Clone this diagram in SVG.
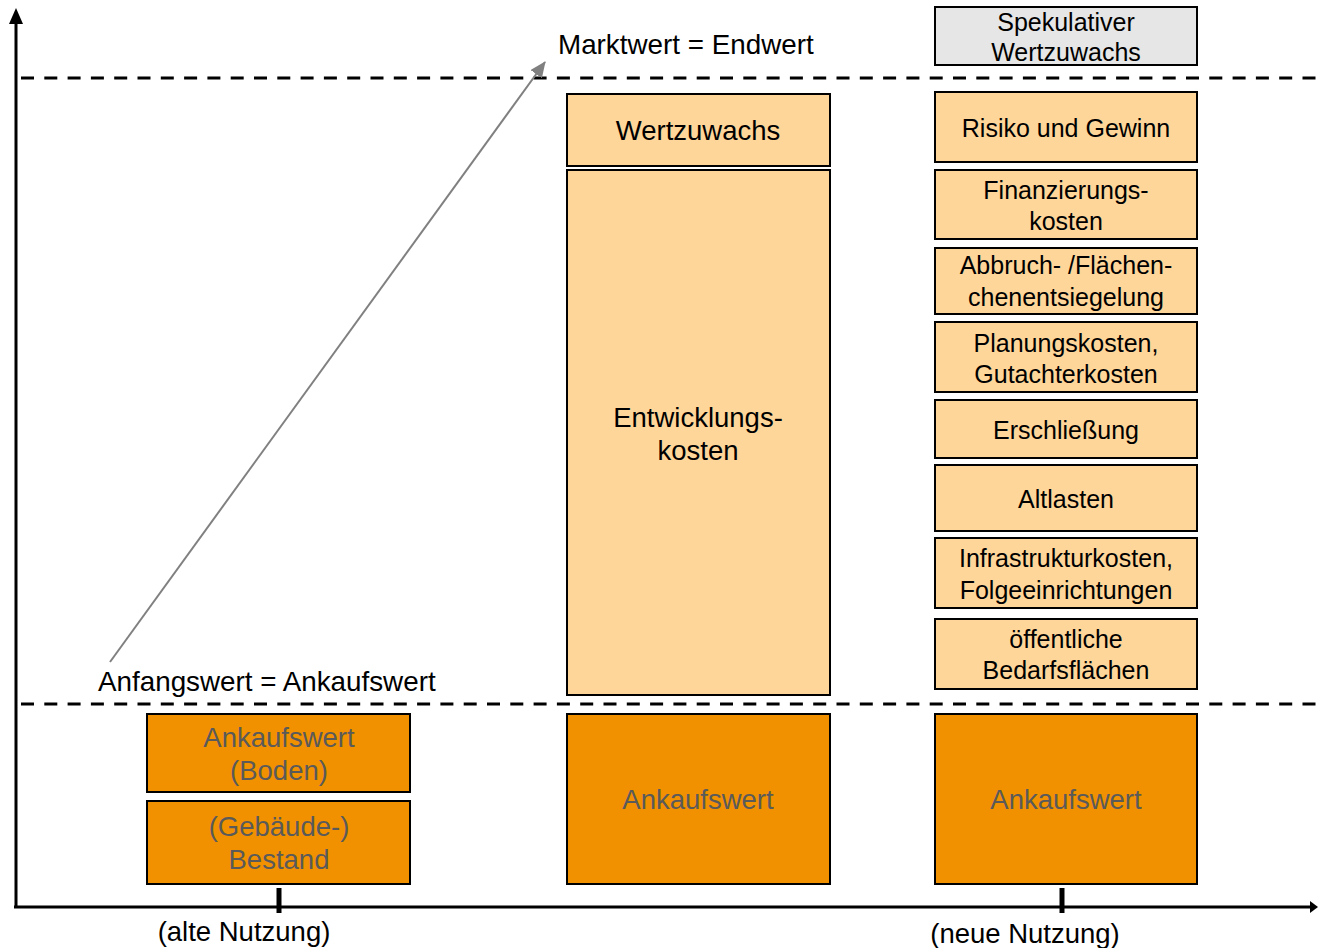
<svg xmlns="http://www.w3.org/2000/svg" width="1318" height="948" viewBox="0 0 1318 948">
<defs>
<style>
text{font-family:"Liberation Sans",Arial,sans-serif;text-anchor:middle;fill:#000}
.big{font-size:27.5px}
.sm{font-size:25px}
.lbl{font-size:27.8px;text-anchor:start}
.dk{fill:#5a5a5a}
.lo{fill:#FFD699;stroke:#000;stroke-width:2}
.or{fill:#F29100;stroke:#000;stroke-width:2}
.gr{fill:#E6E6E6;stroke:#000;stroke-width:2}
.dash{stroke:#000;stroke-width:3;stroke-dasharray:13 10.3;fill:none}
.axis{stroke:#000;stroke-width:3;fill:none}
.tick{stroke:#000;stroke-width:5}
</style>
<marker id="gh" markerWidth="16" markerHeight="14" refX="15" refY="7" orient="auto" markerUnits="userSpaceOnUse">
<path d="M0,0 L16,7 L0,14 z" fill="#808080"/>
</marker>
</defs>
<rect width="1318" height="948" fill="#fff"/>

<g id="connectors">
<line class="axis" x1="16" y1="908" x2="16" y2="22"/>
<path d="M9,24 L16,8 L23,24 z" fill="#000"/>
<line class="axis" x1="14" y1="907" x2="1312" y2="907"/>
<path d="M1310,901 L1318,907 L1310,913 z" fill="#000"/>
<line class="tick" x1="279" y1="888" x2="279" y2="913"/>
<line class="tick" x1="1062" y1="888" x2="1062" y2="913"/>
<line class="dash" x1="21" y1="78" x2="1318" y2="78"/>
<line class="dash" x1="21" y1="704" x2="1318" y2="704"/>
<line x1="110" y1="662" x2="545" y2="62" stroke="#808080" stroke-width="2" marker-end="url(#gh)"/>
</g>

<g id="labels">
<text class="lbl" x="558" y="54">Marktwert = Endwert</text>
<text class="lbl" x="98" y="691">Anfangswert = Ankaufswert</text>
<text class="big" x="244" y="941">(alte Nutzung)</text>
<text class="big" x="1025" y="943">(neue Nutzung)</text>
</g>

<g id="left-boden">
<rect class="or" x="147" y="714" width="263" height="78"/>
<text class="big dk" x="279" y="747">Ankaufswert</text>
<text class="big dk" x="279" y="780">(Boden)</text>
</g>
<g id="left-bestand">
<rect class="or" x="147" y="801" width="263" height="83"/>
<text class="big dk" x="279" y="836">(Gebäude-)</text>
<text class="big dk" x="279" y="869">Bestand</text>
</g>

<g id="mid-wertzuwachs">
<rect class="lo" x="567" y="94" width="263" height="72"/>
<text class="big" x="698" y="140">Wertzuwachs</text>
</g>
<g id="mid-entwicklung">
<rect class="lo" x="567" y="170" width="263" height="525"/>
<text class="big" x="698" y="427">Entwicklungs-</text>
<text class="big" x="698" y="460">kosten</text>
</g>
<g id="mid-ankauf">
<rect class="or" x="567" y="714" width="263" height="170"/>
<text class="big dk" x="698" y="809">Ankaufswert</text>
</g>

<g id="r-spek">
<rect class="gr" x="935" y="7" width="262" height="58"/>
<text class="sm" x="1066" y="31">Spekulativer</text>
<text class="sm" x="1066" y="61">Wertzuwachs</text>
</g>
<g id="r-risiko">
<rect class="lo" x="935" y="92" width="262" height="70"/>
<text class="sm" x="1066" y="137">Risiko und Gewinn</text>
</g>
<g id="r-finanz">
<rect class="lo" x="935" y="170" width="262" height="69"/>
<text class="sm" x="1066" y="199">Finanzierungs-</text>
<text class="sm" x="1066" y="230">kosten</text>
</g>
<g id="r-abbruch">
<rect class="lo" x="935" y="248" width="262" height="66"/>
<text class="sm" x="1066" y="274">Abbruch- /Flächen-</text>
<text class="sm" x="1066" y="306">chenentsiegelung</text>
</g>
<g id="r-planung">
<rect class="lo" x="935" y="322" width="262" height="70"/>
<text class="sm" x="1066" y="352">Planungskosten,</text>
<text class="sm" x="1066" y="383">Gutachterkosten</text>
</g>
<g id="r-erschl">
<rect class="lo" x="935" y="400" width="262" height="58"/>
<text class="sm" x="1066" y="439">Erschließung</text>
</g>
<g id="r-altlasten">
<rect class="lo" x="935" y="465" width="262" height="66"/>
<text class="sm" x="1066" y="508">Altlasten</text>
</g>
<g id="r-infra">
<rect class="lo" x="935" y="538" width="262" height="70"/>
<text class="sm" x="1066" y="567">Infrastrukturkosten,</text>
<text class="sm" x="1066" y="599">Folgeeinrichtungen</text>
</g>
<g id="r-oeff">
<rect class="lo" x="935" y="619" width="262" height="70"/>
<text class="sm" x="1066" y="648">öffentliche</text>
<text class="sm" x="1066" y="679">Bedarfsflächen</text>
</g>
<g id="r-ankauf">
<rect class="or" x="935" y="714" width="262" height="170"/>
<text class="big dk" x="1066" y="809">Ankaufswert</text>
</g>
</svg>
